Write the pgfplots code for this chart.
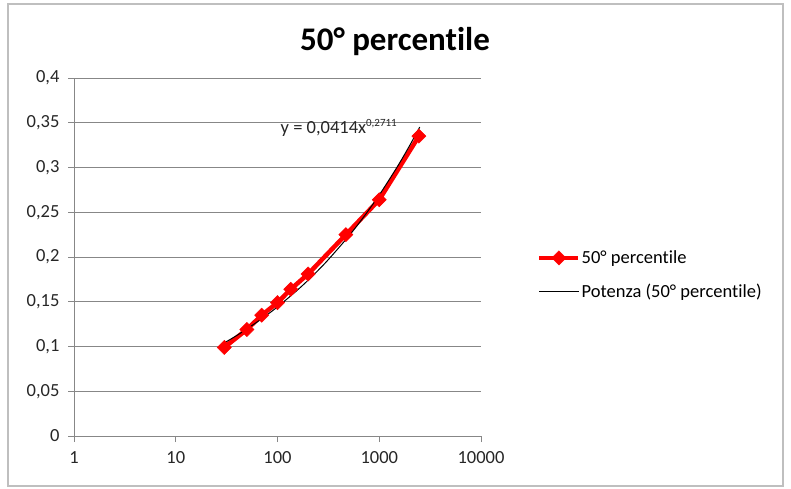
\documentclass[border=0pt]{standalone}
\usepackage{fontspec}
\setmainfont[Ligatures=NoCommon]{Carlito}
\usepackage{pgfplots}
\pgfplotsset{compat=1.18}

\definecolor{gridgray}{HTML}{878787}
\definecolor{xlred}{HTML}{FF0000}

\begin{document}
\begin{tikzpicture}[x=1pt,y=1pt]
\useasboundingbox (0,0) rectangle (791,488);
\draw[gray!50, line width=1.2pt] (8,2) rectangle (783,484);
\node[font=\fontsize{33}{36}\selectfont\bfseries] at (395,446) {50° percentile};

\begin{axis}[
    at={(74pt,52pt)}, anchor=south west,
    scale only axis,
    width=407pt, height=358pt,
    xmode=log,
    xmin=1, xmax=10000,
    ymin=0, ymax=0.4,
    xtick={1,10,100,1000,10000},
    xticklabels={1,10,100,1000,10000},
    xminorticks=false,
    ytick={0,0.05,0.1,0.15,0.2,0.25,0.3,0.35,0.4},
    yticklabels={0,{0,05},{0,1},{0,15},{0,2},{0,25},{0,3},{0,35},{0,4}},
    axis x line*=bottom,
    axis y line*=left,
    axis line style={gridgray, line width=1pt},
    ymajorgrids,
    grid style={gridgray, line width=1pt},
    tick style={gridgray, line width=1pt},
    tick align=outside,
    major tick length=6pt,
    ticklabel style={font=\fontsize{18.5}{21}\selectfont, text=black!85},
    xticklabel style={yshift=-6pt},
    yticklabel style={xshift=-5pt},
    /pgf/number format/assume math mode=true,
    clip=false,
    legend style={
        at={(1,0.45)}, anchor=west, xshift=53pt,
        draw=none, fill=none,
        font=\fontsize{18.5}{21}\selectfont,
        row sep=17pt,
        nodes={inner sep=1pt},
    },
    legend cell align=left,
    legend image code/.code={
        \draw[mark repeat=2, mark phase=2, #1] plot coordinates {(0pt,0pt) (19.5pt,0pt) (39pt,0pt)};
    },
]
\addplot[xlred, line width=4.5pt, mark=square*, mark size=5pt,
    mark options={rotate=45, solid, line width=0.5pt, fill=xlred}] coordinates {
    (30,0.099) (50,0.119) (70,0.135) (100,0.149) (135,0.164)
    (200,0.181) (470,0.225) (1000,0.264) (2450,0.335)
};
\addlegendentry{50° percentile}
\addplot[black, line width=1pt, smooth] coordinates {
    (30,0.1040) (40,0.1125) (50,0.1196) (70,0.1310) (100,0.1443)
    (150,0.1611) (200,0.1741) (300,0.1943) (500,0.2232) (700,0.2445)
    (1000,0.2693) (1500,0.3006) (2000,0.3250) (2500,0.3452)
};
\addlegendentry{Potenza (50° percentile)}
\node[anchor=base west, font=\fontsize{18.5}{21}\selectfont, text=black!85, inner sep=0pt]
    at (axis cs:107,0.338) {y = 0,0414x\raisebox{7pt}{\fontsize{11}{12}\selectfont 0,2711}};
\end{axis}
\end{tikzpicture}
\end{document}
